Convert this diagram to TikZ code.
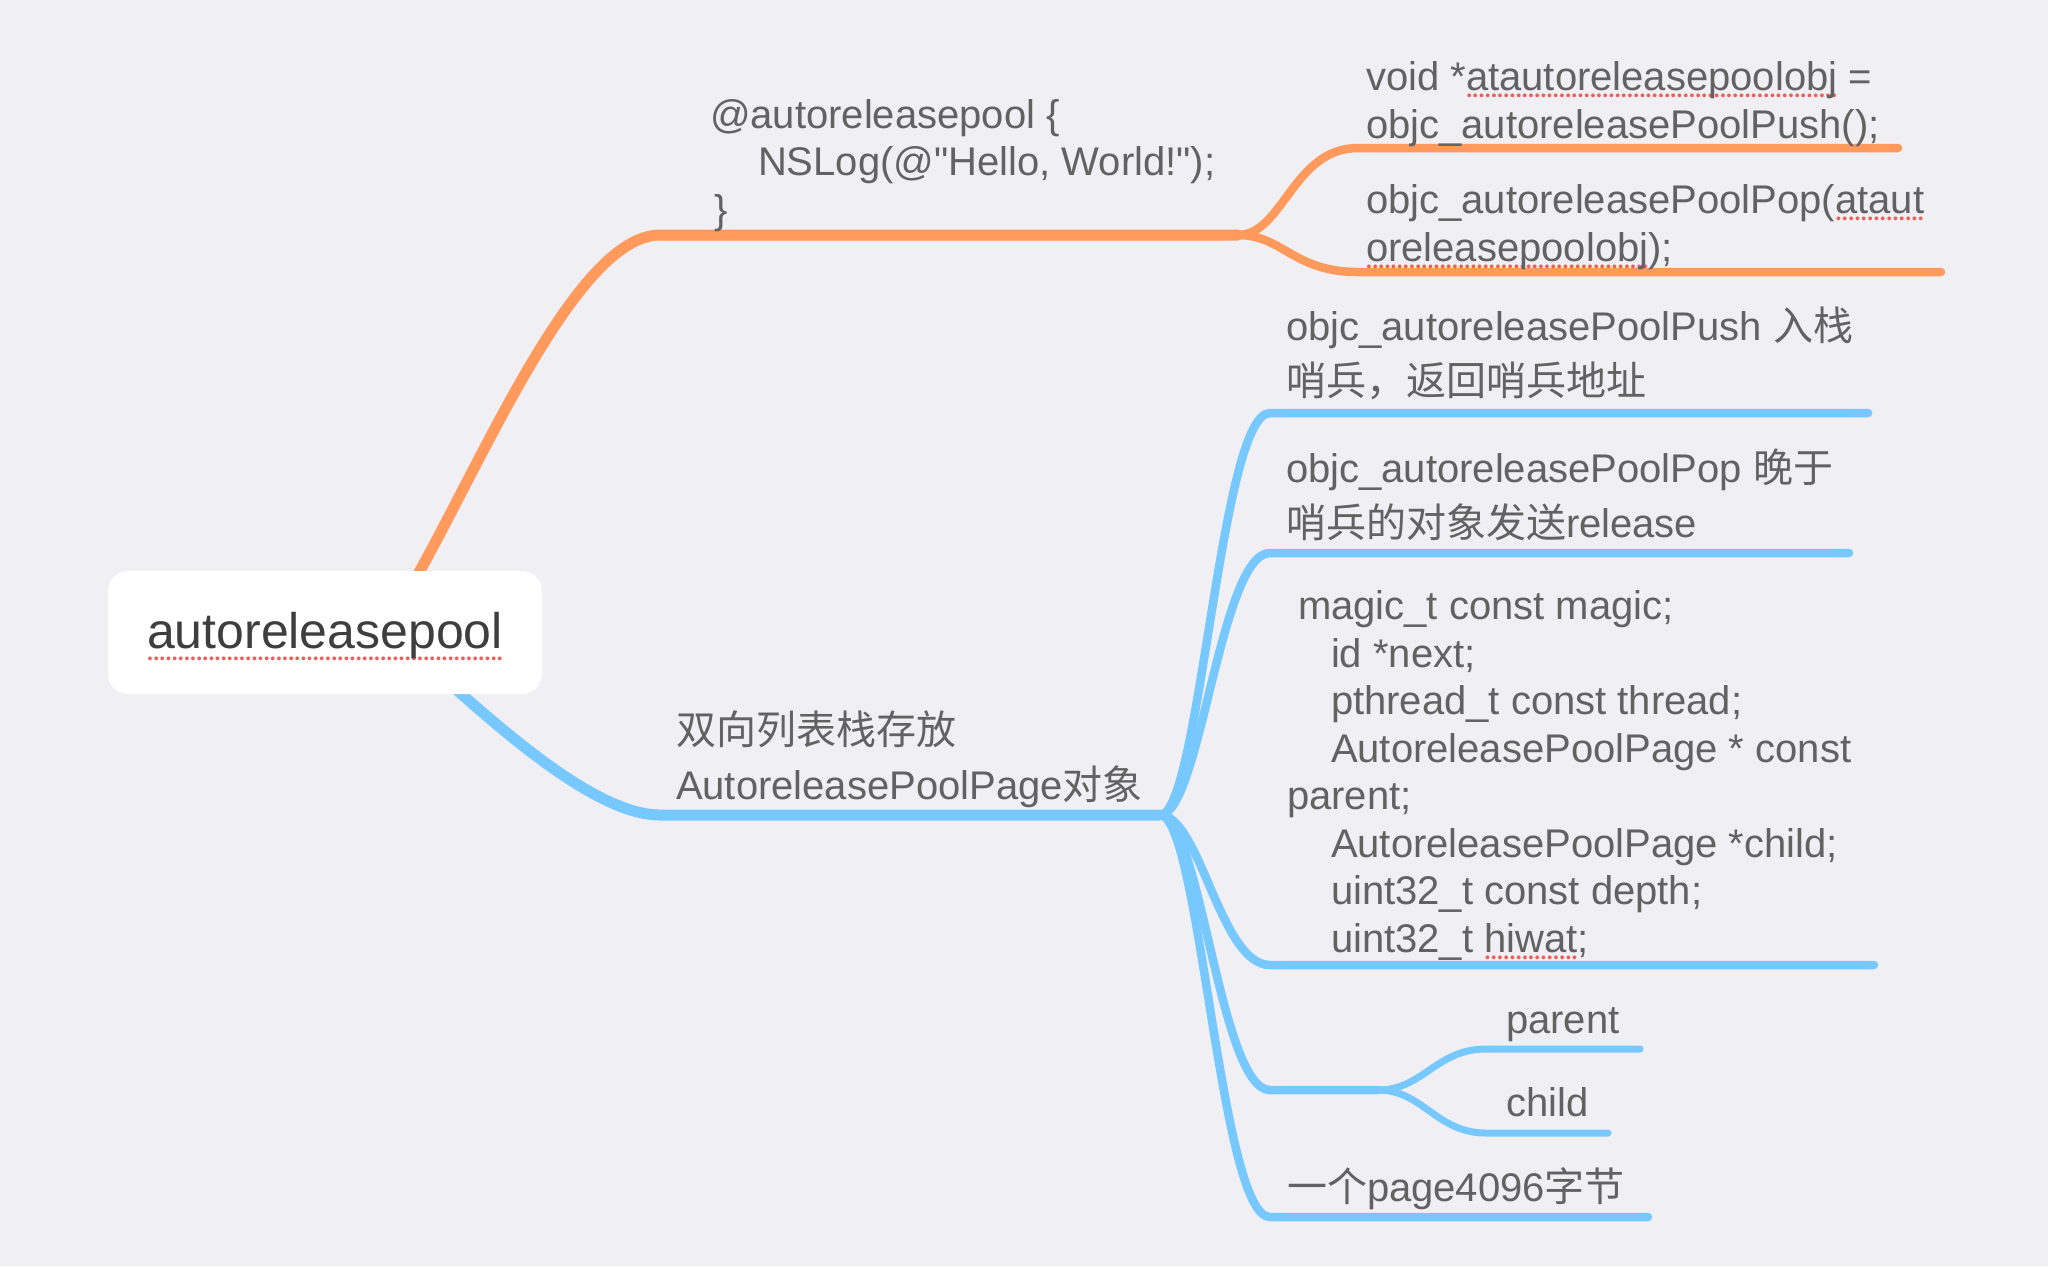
\documentclass[tikz,border=0pt]{standalone}
\usepackage{fontspec}
\setmainfont{Liberation Sans}[Ligatures=TeXOff]
\newfontfamily\cjk{Noto Sans CJK SC}
\usetikzlibrary{positioning}
\definecolor{mapbg}{RGB}{239,239,244}
\definecolor{maporange}{RGB}{255,153,92}
\definecolor{mapblue}{RGB}{118,200,255}
\definecolor{maptext}{RGB}{98,98,98}
\definecolor{roottext}{RGB}{62,62,62}
\definecolor{spellred}{RGB}{236,94,86}
% red dotted spell-check mark under a word
\newlength\spellwd
\newcommand\spell[2][5.1pt]{\settowidth\spellwd{#2}\rlap{\lower#1\hbox to\spellwd{\xleaders\hbox{\kern0.3pt\textcolor{spellred}{\fontsize{7}{7}\selectfont\textbullet}\kern0.3pt}\hfil}}#2}

\begin{document}
\begin{tikzpicture}[x=0.5pt, y=-0.5pt,
  rootbox/.style={rectangle, fill=white, rounded corners=10pt, minimum width=217pt, minimum height=61.5pt, font=\fontsize{25}{30}\selectfont, text=roottext, text height=18pt, text depth=1.75pt},
  txt/.style={inner sep=0pt, outer sep=0pt, align=left, text=maptext, text depth=0pt, font=\fontsize{20}{23.75}\selectfont},
  cjktxt/.style={txt, font=\fontsize{20}{27.5}\selectfont},
  trunk/.style={line width=5.5pt, line cap=round, line join=round},
  twig/.style={line width=4.25pt, line cap=round, line join=round},
  leaf/.style={line width=3.5pt, line cap=round, line join=round}
]
\fill[mapbg] (0,0) rectangle (2048,1266);
\useasboundingbox (0,0) rectangle (2048,1266);
% branch points
\coordinate (oroot) at (375,640);
\coordinate (ostem) at (660,235);
\coordinate (osplit) at (1238,235);
\coordinate (opush) at (1358,148);
\coordinate (opushend) at (1898,148);
\coordinate (opop) at (1358,272);
\coordinate (opopend) at (1941,272);
\coordinate (broot) at (400,640);
\coordinate (bstem) at (660,815);
\coordinate (bsplit) at (1160,815);
\coordinate (bpush) at (1270,413);
\coordinate (bpushend) at (1868,413);
\coordinate (bpop) at (1270,553);
\coordinate (bpopend) at (1849,553);
\coordinate (bfields) at (1270,965);
\coordinate (bfieldsend) at (1874,965);
\coordinate (blinks) at (1270,1090);
\coordinate (blinksplit) at (1378,1090);
\coordinate (bparent) at (1486,1049);
\coordinate (bparentend) at (1640,1049);
\coordinate (bchild) at (1486,1133);
\coordinate (bchildend) at (1608,1133);
\coordinate (bsize) at (1270,1217);
\coordinate (bsizeend) at (1648,1217);
% orange branch
\draw[trunk, maporange] (oroot) .. controls +(70,-80) and +(-100,0) .. (ostem) -- (osplit);
\draw[twig, maporange] (osplit) .. controls +(45,0) and +(-65,0) .. (opush) -- (opushend);
\draw[twig, maporange] (osplit) .. controls +(45,0) and +(-65,0) .. (opop) -- (opopend);
% blue branch
\draw[trunk, mapblue] (broot) .. controls +(50,40) and +(-80,0) .. (bstem) -- (bsplit);
\draw[twig, mapblue] (bsplit) .. controls +(40,0) and +(-50,0) .. (bpush) -- (bpushend);
\draw[twig, mapblue] (bsplit) .. controls +(40,0) and +(-50,0) .. (bpop) -- (bpopend);
\draw[twig, mapblue] (bsplit) .. controls +(40,0) and +(-50,0) .. (bfields) -- (bfieldsend);
\draw[twig, mapblue] (bsplit) .. controls +(40,0) and +(-50,0) .. (blinks) -- (blinksplit);
\draw[twig, mapblue] (bsplit) .. controls +(40,0) and +(-50,0) .. (bsize) -- (bsizeend);
\draw[leaf, mapblue] (blinksplit) .. controls +(45,0) and +(-50,0) .. (bparent) -- (bparentend);
\draw[leaf, mapblue] (blinksplit) .. controls +(45,0) and +(-50,0) .. (bchild) -- (bchildend);
% root
\node[rootbox] (root) at (325,632.5) {\spell[7.2pt]{autoreleasepool}};
% labels
\node[txt, above right=6pt and 25pt of ostem] (ocode) {@autoreleasepool \{\\\hspace*{24pt}NSLog(@"Hello, World!");\\\hspace*{2pt}\}};
\node[txt, above right=5pt and 4pt of opush] (opushtxt) {void *\spell{atautoreleasepoolobj} =\\objc\_autoreleasePoolPush();};
\node[txt, above right=5.5pt and 4pt of opop] (opoptxt) {objc\_autoreleasePoolPop(\spell{ataut}\\\spell{oreleasepoolobj});};
\node[cjktxt, above right=8pt and 8pt of bstem] (bpage) {{\cjk 双向列表栈存放}\\AutoreleasePoolPage{\cjk 对象}};
\node[cjktxt, above right=9pt and 8pt of bpush] (bpushtxt) {objc\_autoreleasePoolPush {\cjk 入栈}\\{\cjk 哨兵，返回哨兵地址}};
\node[cjktxt, above right=8pt and 8pt of bpop] (bpoptxt) {objc\_autoreleasePoolPop {\cjk 晚于}\\{\cjk 哨兵的对象发送}release};
\node[txt, above right=6.5pt and 8.5pt of bfields] (bfieldstxt) {\hspace*{5.5pt}magic\_t const magic;\\\hspace*{22pt}id *next;\\\hspace*{22pt}pthread\_t const thread;\\\hspace*{22pt}AutoreleasePoolPage * const\\parent;\\\hspace*{22pt}AutoreleasePoolPage *child;\\\hspace*{22pt}uint32\_t const depth;\\\hspace*{22pt}uint32\_t \spell{hiwat};};
\node[txt, above right=8pt and 10pt of bparent] (bparenttxt) {parent};
\node[txt, above right=8.5pt and 10pt of bchild] (bchildtxt) {child};
\node[cjktxt, above right=8pt and 8.5pt of bsize] (bsizetxt) {{\cjk 一个}page4096{\cjk 字节}};
\end{tikzpicture}
\end{document}
